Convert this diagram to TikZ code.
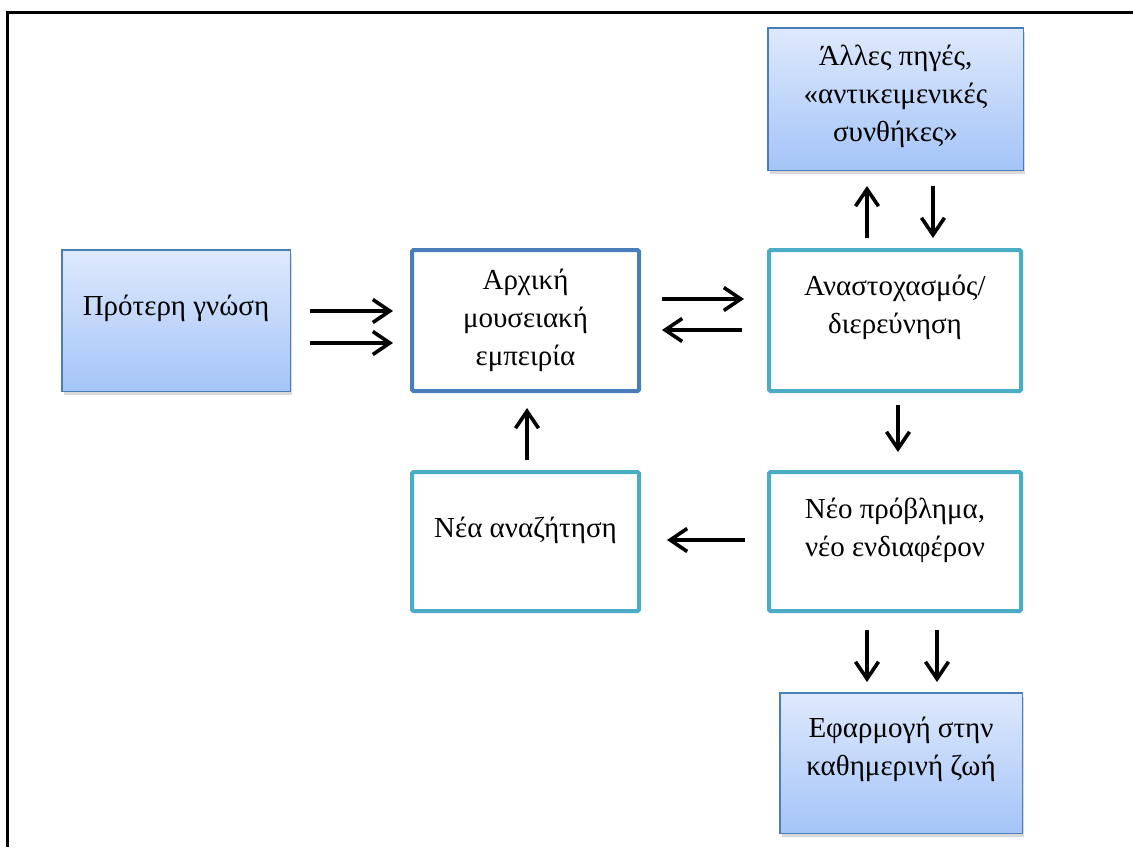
\documentclass[tikz,border=0pt]{standalone}
\usepackage{fontspec}
\setmainfont{Liberation Serif}
\usetikzlibrary{arrows.meta,shadows}
\definecolor{boxblue}{RGB}{74,126,187}
\definecolor{boxteal}{RGB}{75,172,198}
\definecolor{filltop}{RGB}{222,233,252}
\definecolor{fillbot}{RGB}{164,196,248}
\newcommand{\pxsize}{1pt}

\begin{document}
\begin{tikzpicture}[x=\pxsize,y=-\pxsize]
\useasboundingbox (0,0) rectangle (1133,847);
\draw[line width=3*\pxsize] (1133,12) -- (7,12) -- (7,847);
\tikzstyle{every node}=[rectangle,
                        align=center,
                        inner sep=0pt,
                        font=\fontsize{29}{38}\selectfont
                        ]
\tikzstyle{bluebox}=[draw=boxblue,
                     line width=1.5*\pxsize,
                     top color=filltop,
                     bottom color=fillbot,
                     drop shadow={shadow xshift=2pt,shadow yshift=-4pt,opacity=0.3}
                     ]
\tikzstyle{linebox}=[draw=boxteal,
                     line width=4*\pxsize,
                     fill=white,
                     rounded corners=1.5*\pxsize
                     ]
\tikzstyle{flow}=[line width=3.6*\pxsize,
                  -{Straight Barb[length=17pt,width=23pt]}
                  ]
\node[bluebox, minimum width=228.5*\pxsize, minimum height=141.5*\pxsize,
      label={[yshift=12pt]center:{Πρότερη γνώση}}] (prior) at (176,320.5) {};
\node[linebox, draw=boxblue, minimum width=227*\pxsize, minimum height=141*\pxsize,
      label={[yshift=0pt]center:{Αρχική\\μουσειακή\\εμπειρία}}] (initial) at (525.5,320.5) {};
\node[linebox, minimum width=252*\pxsize, minimum height=141*\pxsize,
      label={[yshift=13pt]center:{Αναστοχασμός/\\διερεύνηση}}] (reflect) at (895,320.5) {};
\node[bluebox, minimum width=255.5*\pxsize, minimum height=142.5*\pxsize,
      label={[yshift=3pt]center:{Άλλες πηγές,\\«αντικειμενικές\\συνθήκες»}}] (other) at (895.5,99) {};
\node[linebox, minimum width=227*\pxsize, minimum height=139*\pxsize,
      label={[yshift=11pt]center:{Νέα αναζήτηση}}] (search) at (525.5,541.5) {};
\node[linebox, minimum width=252*\pxsize, minimum height=139*\pxsize,
      label={[yshift=11pt]center:{Νέο πρόβλημα,\\νέο ενδιαφέρον}}] (problem) at (895,541.5) {};
\node[bluebox, minimum width=242.5*\pxsize, minimum height=140.5*\pxsize,
      label={[yshift=14pt]center:{Εφαρμογή στην\\καθημερινή ζωή}}] (apply) at (901,763) {};
\draw[flow, shorten <=19pt, shorten >=17pt] ([yshift=9.5pt]prior.east) -- ([yshift=9.5pt]initial.west);
\draw[flow, shorten <=19pt, shorten >=17pt] ([yshift=-22.5pt]prior.east) -- ([yshift=-22.5pt]initial.west);
\draw[flow, shorten <=21pt, shorten >=23pt] ([yshift=21.5pt]initial.east) -- ([yshift=21.5pt]reflect.west);
\draw[flow, shorten <=25pt, shorten >=21pt] ([yshift=-9.5pt]reflect.west) -- ([yshift=-9.5pt]initial.east);
\draw[flow, shorten <=10pt, shorten >=15pt] ([xshift=-28pt]reflect.north) -- ([xshift=-28.5pt]other.south);
\draw[flow, shorten <=15pt, shorten >=10pt] ([xshift=37.5pt]other.south) -- ([xshift=38pt]reflect.north);
\draw[flow, shorten <=12pt, shorten >=18pt] ([xshift=3pt]reflect.south) -- ([xshift=3pt]problem.north);
\draw[flow, shorten <=22pt, shorten >=26pt] ([yshift=1.5pt]problem.west) -- ([yshift=1.5pt]search.east);
\draw[flow, shorten <=10pt, shorten >=15pt] ([xshift=1.5pt]search.north) -- ([xshift=1.5pt]initial.south);
\draw[flow, shorten <=17pt, shorten >=10pt] ([xshift=-28pt]problem.south) -- ([xshift=-34pt]apply.north);
\draw[flow, shorten <=17pt, shorten >=10pt] ([xshift=42pt]problem.south) -- ([xshift=36pt]apply.north);
\end{tikzpicture}
\end{document}
